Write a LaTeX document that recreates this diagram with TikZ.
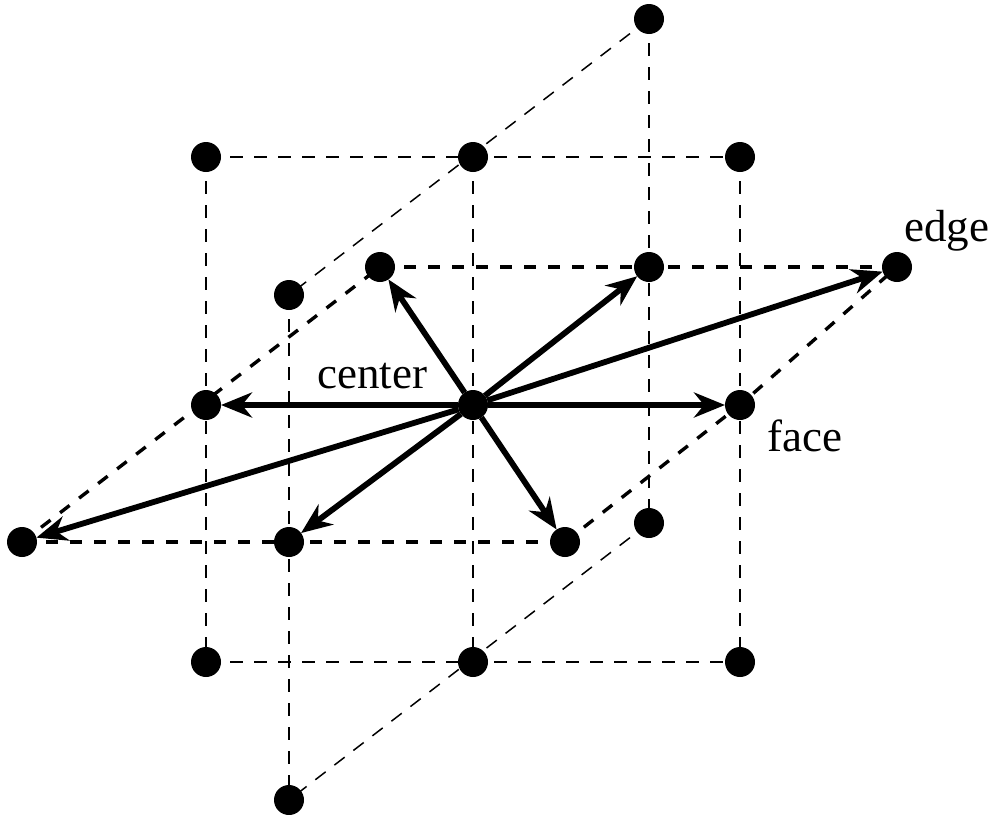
\documentclass[tikz,border=0pt]{standalone}
\usepackage{fontspec}
\setmainfont{Liberation Serif}
\usetikzlibrary{arrows.meta,backgrounds}
\tikzset{
  dot/.style={circle,fill=black,inner sep=0pt,outer sep=0pt,minimum size=30pt},
  thindash/.style={line width=1.5pt,dash pattern=on 13pt off 11pt},
  thickdash/.style={line width=3.4pt,dash pattern=on 12pt off 12pt},
  vec/.style={line width=5.8pt,-{Stealth[length=31pt,width=25pt,inset=10pt]}},
  lbl/.style={inner sep=0pt,anchor=base west,font=\fontsize{45}{50}\selectfont}
}
\begin{document}
\begin{tikzpicture}[x=1pt,y=-1pt]
\useasboundingbox (0,0) rectangle (995,814);
\node[dot] (top) at (649,19) {};
\node[dot] (a1) at (206,157) {};
\node[dot] (a2) at (473,157) {};
\node[dot] (a3) at (740,157) {};
\node[dot] (b1) at (380,267) {};
\node[dot] (b2) at (649,267) {};
\node[dot] (b3) at (897,267) {};
\node[dot] (back) at (289,295) {};
\node[dot] (c1) at (206,405) {};
\node[dot] (c2) at (473,405) {};
\node[dot] (c3) at (740,405) {};
\node[dot] (front) at (649,523) {};
\node[dot] (d1) at (22,542) {};
\node[dot] (d2) at (289,542) {};
\node[dot] (d3) at (565,542) {};
\node[dot] (e1) at (206,662) {};
\node[dot] (e2) at (473,662) {};
\node[dot] (e3) at (740,662) {};
\node[dot] (bot) at (289,800) {};
\begin{pgfonlayer}{background}
\draw[thindash] (a1.center) -- (a3.center);
\draw[thindash] (e1.center) -- (e3.center);
\draw[thindash] (a1.center) -- (e1.center);
\draw[thindash] (a2.center) -- (e2.center);
\draw[thindash] (a3.center) -- (e3.center);
\draw[thindash] (top.center) -- (front.center);
\draw[thindash] (back.center) -- (bot.center);
\draw[thindash] (top.center) -- (back.center);
\draw[thindash] (front.center) -- (bot.center);
\draw[thickdash] (b1.center) -- (b3.center);
\draw[thickdash] (d1.center) -- (d3.center);
\draw[thickdash] (d1.center) -- (b1.center);
\draw[thickdash] (d3.center) -- (c3.center) -- (b3.center);
\end{pgfonlayer}
\draw[vec] (c2) -- (b1);
\draw[vec] (c2) -- (b2);
\draw[vec] (c2) -- (b3);
\draw[vec] (c2) -- (c1);
\draw[vec] (c2) -- (c3);
\draw[vec] (c2) -- (d1);
\draw[vec] (c2) -- (d2);
\draw[vec] (c2) -- (d3);
\node[lbl] (center) at (317,388) {center};
\node[lbl] (edge) at (904,241) {edge};
\node[lbl] (face) at (767,451) {face};
\end{tikzpicture}
\end{document}
